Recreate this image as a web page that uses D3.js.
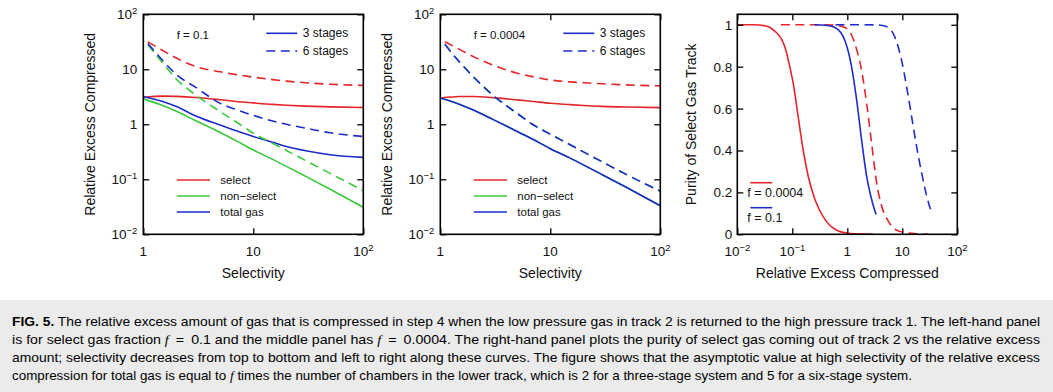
<!DOCTYPE html>
<html><head><meta charset="utf-8">
<script src="https://cdn.jsdelivr.net/npm/d3@7"></script>
<style>
body{margin:0;background:#fff}
svg{display:block}
text{font-family:"Liberation Sans",Arial,sans-serif;fill:#111}
</style>
</head><body>
<svg id="c" width="1053" height="392"></svg>
<script>
// ---------------- data ----------------
const selectivity3 = [1,1.5,2,3,5,7,10,15,20,30,50,100];
const selectivity6 = [1.1,1.5,2,3,5,7,10,15,20,30,50,100];
// f = 0.1
const f01Select3    = [3.1,3.25,3.22,3.08,2.8,2.6,2.45,2.3,2.22,2.14,2.07,2.02];
const f01NonSelect3 = [2.9,2.2,1.72,1.16,0.71,0.5,0.34,0.23,0.172,0.113,0.066,0.031];
const f01Total3     = [3.18,2.6,2.1,1.42,0.97,0.76,0.6,0.47,0.395,0.33,0.28,0.25];
const f01Select6    = [31.6,22,16,11.2,9.0,8.0,7.2,6.5,6.1,5.7,5.35,5.1];
const f01NonSelect6 = [28,13,6.6,3.4,1.7,1.1,0.69,0.45,0.335,0.218,0.128,0.062];
const f01Total6     = [29.5,14.5,8.0,4.7,2.4,1.85,1.45,1.15,1.0,0.85,0.7,0.6];
// f = 0.0004
const f4Select3     = [3.0,3.2,3.2,3.05,2.78,2.6,2.42,2.28,2.2,2.12,2.06,2.01];
const f4NonSelect3  = [3.0,2.3,1.82,1.23,0.74,0.53,0.36,0.245,0.183,0.12,0.07,0.033];
const f4Total3      = [3.0,2.3,1.82,1.23,0.74,0.53,0.36,0.245,0.183,0.12,0.07,0.033];
const f4Select6     = [31.6,23,17,12,8.5,7.3,6.4,5.9,5.7,5.45,5.2,5.0];
const f4NonSelect6  = [28.5,13.5,7.3,3.4,1.58,0.98,0.66,0.43,0.315,0.205,0.12,0.061];
const f4Total6      = [28.5,13.5,7.3,3.4,1.58,0.98,0.66,0.43,0.315,0.205,0.12,0.061];
// purity panel
const purityF4Excess3 = [0.01,0.02,0.032,0.048,0.064,0.074,0.09,0.104,0.128,0.158,0.195,0.258,0.393,0.597,1.04,2,3];
const purityF4Value3  = [1,1,0.995,0.97,0.93,0.89,0.8,0.72,0.56,0.40,0.276,0.166,0.07,0.024,0.005,0.001,0];
const purityF4Excess6 = [0.062,0.3,0.6,0.907,1.2,1.38,1.82,2.25,2.77,3.42,4.21,5.56,7.35,11.2,20,30];
const purityF4Value6  = [1,1,0.998,0.987,0.95,0.908,0.782,0.624,0.434,0.245,0.135,0.063,0.024,0.008,0.002,0];
const purityF01Excess3 = [0.25,0.4,0.597,0.907,1.2,1.48,1.82,2.25,2.77,3.32];
const purityF01Value3  = [1,0.998,0.987,0.924,0.798,0.64,0.45,0.276,0.166,0.095];
const purityF01Excess6 = [0.61,1,2,4,5.56,7.35,9.73,12.0,14.8,18.2,22.5,27.8,33.2];
const purityF01Value6  = [1,1,1,0.998,0.987,0.94,0.829,0.703,0.561,0.419,0.292,0.182,0.111];

const logTicks2 = [{v:1,b:"1"},{v:10,b:"10"},{v:100,b:"10",s:"2"}];
const logTicks4 = [{v:0.01,b:"10",s:"\u22122"},{v:0.1,b:"10",s:"\u22121"},{v:1,b:"1"},{v:10,b:"10"},{v:100,b:"10",s:"2"}];
const purityTicks = [0,0.2,0.4,0.6,0.8,1];
const purityTickLabels = ["0","0.2","0.4","0.6","0.8","1"];

const captionLines = [
  [{t:"FIG. 5.",b:1},{t:" The relative excess amount of gas that is compressed in step 4 when the low pressure gas in track 2 is returned to the high pressure track 1. The left-hand panel"}],
  [{t:"is for select gas fraction "},{t:"f",i:1},{t:"\u2002=\u20020.1 and the middle panel has "},{t:"f",i:1},{t:"\u2002=\u20020.0004. The right-hand panel plots the purity of select gas coming out of track 2 vs the relative excess"}],
  [{t:"amount; selectivity decreases from top to bottom and left to right along these curves. The figure shows that the asymptotic value at high selectivity of the relative excess"}],
  [{t:"compression for total gas is equal to "},{t:"f",i:1},{t:" times the number of chambers in the lower track, which is 2 for a three-stage system and 5 for a six-stage system."}]
];
const captionWidths = [1028,1028,1028,900];

// ---------------- drawing ----------------
const RED="#e5252a", GREEN="#3cc83c", BLUE="#1f2bcc";
const DASH="9,5.5";
const svg = d3.select("#c");
const TOP=14.3, H=220, W=220;

function addLabel(sel, t, fs){
  sel.text(null);
  sel.append("tspan").text(t.b);
  if(t.s) sel.append("tspan").attr("font-size", fs*0.7).attr("dy", -fs*0.42).text(t.s);
}

function frame(g, x0){
  g.append("rect").attr("x",x0).attr("y",TOP).attr("width",W).attr("height",H)
    .attr("fill","none").attr("stroke","#000").attr("stroke-width",1.6);
}

function ticksAll(g, x, y, xv, yv, x0){
  const L=6;
  g.append("g").attr("transform",`translate(0,${TOP+H})`).call(d3.axisBottom(x).tickValues(xv).tickSize(-L).tickFormat("")).call(a=>a.select(".domain").remove());
  g.append("g").attr("transform",`translate(0,${TOP})`).call(d3.axisTop(x).tickValues(xv).tickSize(-L).tickFormat("")).call(a=>a.select(".domain").remove());
  g.append("g").attr("transform",`translate(${x0},0)`).call(d3.axisLeft(y).tickValues(yv).tickSize(-L).tickFormat("")).call(a=>a.select(".domain").remove());
  g.append("g").attr("transform",`translate(${x0+W},0)`).call(d3.axisRight(y).tickValues(yv).tickSize(-L).tickFormat("")).call(a=>a.select(".domain").remove());
  g.selectAll(".tick line").attr("stroke","#000").attr("stroke-width",1.3);
}

function selectivityPanel(x0, label, series, yLabelX){
  const g = svg.append("g");
  const x = d3.scaleLog().domain([1,100]).range([x0,x0+W]);
  const y = d3.scaleLog().domain([0.01,100]).range([TOP+H,TOP]);
  const id = "clip"+Math.round(x0);
  svg.append("clipPath").attr("id",id).append("rect").attr("x",x0).attr("y",TOP).attr("width",W).attr("height",H);
  const line = d3.line().x(d=>x(d[0])).y(d=>y(d[1])).curve(d3.curveMonotoneX);
  const cg = g.append("g").attr("clip-path",`url(#${id})`);
  series.forEach(s=>{
    cg.append("path").attr("d", line(s.xs.map((v,i)=>[v,s.ys[i]])))
      .attr("fill","none").attr("stroke",s.c).attr("stroke-width",1.6)
      .attr("stroke-dasharray", s.dash?DASH:null);
  });
  ticksAll(g,x,y,[1,10,100],[0.01,0.1,1,10,100],x0);
  frame(g,x0);
  const fs=13.5;
  logTicks2.forEach(t=>{
    addLabel(g.append("text").attr("x",x(t.v)).attr("y",TOP+H+22).attr("text-anchor","middle").attr("font-size",fs), t, fs);
  });
  logTicks4.forEach(t=>{
    addLabel(g.append("text").attr("x",x0-6).attr("y",y(t.v)+5).attr("text-anchor","end").attr("font-size",fs), t, fs);
  });
  g.append("text").attr("x",x0+W/2).attr("y",278).attr("text-anchor","middle").attr("font-size",14).text("Selectivity");
  g.append("text").attr("transform",`translate(${yLabelX},${TOP+H/2}) rotate(-90)`).attr("text-anchor","middle").attr("font-size",14).text("Relative Excess Compressed");
  const ft = g.append("text").attr("x",x0+33.4).attr("y",39).attr("font-size",11.5);
  ft.append("tspan").text(label);
  [[33.3,null,"3 stages"],[51,DASH,"6 stages"]].forEach(r=>{
    g.append("line").attr("x1",x0+123).attr("x2",x0+154).attr("y1",r[0]).attr("y2",r[0]).attr("stroke",BLUE).attr("stroke-width",1.6).attr("stroke-dasharray",r[1]);
    g.append("text").attr("x",x0+159.5).attr("y",r[0]+4).attr("font-size",12).text(r[2]);
  });
  [[180,RED,"select"],[196,GREEN,"non\u2212select"],[212,BLUE,"total gas"]].forEach(r=>{
    g.append("line").attr("x1",x0+33.4).attr("x2",x0+66.7).attr("y1",r[0]).attr("y2",r[0]).attr("stroke",r[1]).attr("stroke-width",1.6);
    g.append("text").attr("x",x0+77).attr("y",r[0]+4).attr("font-size",11.5).text(r[2]);
  });
}

selectivityPanel(143.3, "f = 0.1", [
  {xs:selectivity3, ys:f01Select3, c:RED},
  {xs:selectivity3, ys:f01NonSelect3, c:GREEN},
  {xs:selectivity3, ys:f01Total3, c:BLUE},
  {xs:selectivity6, ys:f01Select6, c:RED, dash:1},
  {xs:selectivity6, ys:f01NonSelect6, c:GREEN, dash:1},
  {xs:selectivity6, ys:f01Total6, c:BLUE, dash:1}
], 95);

selectivityPanel(440.3, "f = 0.0004", [
  {xs:selectivity3, ys:f4Select3, c:RED},
  {xs:selectivity3, ys:f4NonSelect3, c:GREEN},
  {xs:selectivity3, ys:f4Total3, c:BLUE},
  {xs:selectivity6, ys:f4Select6, c:RED, dash:1},
  {xs:selectivity6, ys:f4NonSelect6, c:GREEN, dash:1},
  {xs:selectivity6, ys:f4Total6, c:BLUE, dash:1}
], 392);

// purity panel
(function(){
  const x0=737.3;
  const g = svg.append("g");
  const x = d3.scaleLog().domain([0.01,100]).range([x0,x0+W]);
  const y = d3.scaleLinear().domain([0,1.05]).range([TOP+H,TOP]);
  svg.append("clipPath").attr("id","clipP").append("rect").attr("x",x0).attr("y",TOP-2).attr("width",W).attr("height",H+2);
  const line = d3.line().x(d=>x(d[0])).y(d=>y(d[1])).curve(d3.curveMonotoneX);
  const cg = g.append("g").attr("clip-path","url(#clipP)");
  [
    {xs:purityF4Excess3, ys:purityF4Value3, c:RED},
    {xs:purityF4Excess6, ys:purityF4Value6, c:RED, dash:1},
    {xs:purityF01Excess3, ys:purityF01Value3, c:BLUE},
    {xs:purityF01Excess6, ys:purityF01Value6, c:BLUE, dash:1}
  ].forEach(s=>{
    cg.append("path").attr("d", line(s.xs.map((v,i)=>[v,s.ys[i]])))
      .attr("fill","none").attr("stroke",s.c).attr("stroke-width",1.6)
      .attr("stroke-dasharray", s.dash?DASH:null);
  });
  ticksAll(g,x,y,[0.01,0.1,1,10,100],purityTicks,x0);
  frame(g,x0);
  const fs=13.5;
  logTicks4.forEach(t=>{
    addLabel(g.append("text").attr("x",x(t.v)).attr("y",TOP+H+22).attr("text-anchor","middle").attr("font-size",fs), t, fs);
  });
  purityTicks.forEach((v,i)=>{
    g.append("text").attr("x",x0-5).attr("y",y(v)+5).attr("text-anchor","end").attr("font-size",fs).text(purityTickLabels[i]);
  });
  g.append("text").attr("x",x0+W/2).attr("y",278).attr("text-anchor","middle").attr("font-size",14).text("Relative Excess Compressed");
  g.append("text").attr("transform",`translate(696,${TOP+H/2}) rotate(-90)`).attr("text-anchor","middle").attr("font-size",14).text("Purity of Select Gas Track");
  [[182.7,RED,"f = 0.0004"],[207.7,BLUE,"f = 0.1"]].forEach(r=>{
    g.append("line").attr("x1",x0+13).attr("x2",x0+35).attr("y1",r[0]).attr("y2",r[0]).attr("stroke",r[1]).attr("stroke-width",1.6);
    g.append("text").attr("x",x0+10).attr("y",r[0]+14.5).attr("font-size",12.5).text(r[2]);
  });
})();

// caption
svg.append("rect").attr("x",0).attr("y",300).attr("width",1053).attr("height",92).attr("fill","#ebebeb");
const capG = svg.append("g");
const capFs = 13.4;
captionLines.forEach((parts,i)=>{
  const t = capG.append("text").attr("x",12).attr("y",326+i*18).attr("font-size",capFs).style("fill","#000")
    .attr("textLength",captionWidths[i]).attr("lengthAdjust","spacingAndGlyphs");
  parts.forEach(p=>{
    const ts=t.append("tspan").text(p.t);
    if(p.b) ts.attr("font-weight","bold");
    if(p.i) ts.attr("font-style","italic").attr("font-family","'Liberation Serif','Times New Roman',serif");
  });
});
</script>
</body></html>
